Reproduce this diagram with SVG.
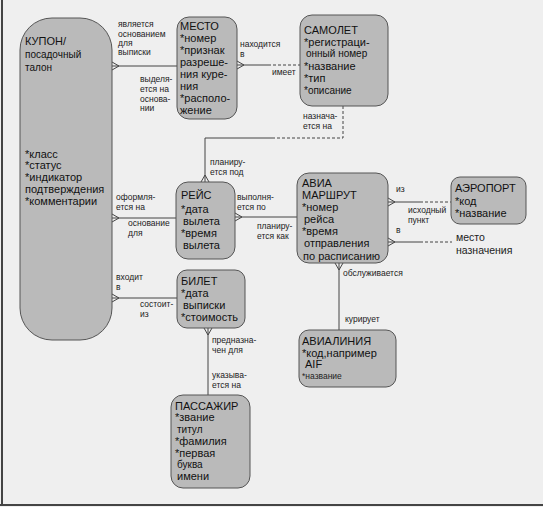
<svg xmlns="http://www.w3.org/2000/svg" width="543" height="507" viewBox="0 0 543 507">
<style>
.bg{fill:#efefef}
.node{fill:#bababa;stroke:#555;stroke-width:1}
.t{font-family:"Liberation Sans",Arial,sans-serif;font-size:11px;fill:#111}
.ts{font-family:"Liberation Sans",Arial,sans-serif;font-size:10px;fill:#111}
.l{font-family:"Liberation Sans",Arial,sans-serif;font-size:8.5px;fill:#222}
.lm{font-family:"Liberation Sans",Arial,sans-serif;font-size:10.5px;fill:#222}
.c{fill:none;stroke:#444;stroke-width:1}
.d{fill:none;stroke:#444;stroke-width:1;stroke-dasharray:3,2}
</style>
<rect class="bg" x="0" y="0" width="543" height="507"/>
<g id="frame" stroke="#444" stroke-width="2">
<line x1="2" y1="0" x2="2" y2="506"/>
<line x1="0" y1="505" x2="543" y2="505"/>
</g>
<g id="connectors">
<line class="c" x1="112" y1="66" x2="177" y2="66"/>
<path class="c" d="M112 62 L119 66 L112 70"/>
<line class="c" x1="237" y1="65" x2="268" y2="65"/>
<line class="d" x1="268" y1="65" x2="300" y2="65"/>
<path class="c" d="M237 61 L244 65 L237 69"/>
<polyline class="d" points="343,106 343,138 275,138"/>
<polyline class="c" points="275,138 205,138 205,182"/>
<path class="c" d="M201 182 L205 175 L209 182"/>
<line class="c" x1="112" y1="218" x2="176" y2="218"/>
<path class="c" d="M112 214 L119 218 L112 222"/>
<line class="c" x1="235" y1="217" x2="297" y2="217"/>
<path class="c" d="M235 213 L242 217 L235 221"/>
<line class="c" x1="388" y1="202" x2="420" y2="202"/>
<line class="d" x1="420" y1="202" x2="451" y2="202"/>
<path class="c" d="M388 198 L395 202 L388 206"/>
<line class="c" x1="388" y1="242" x2="420" y2="242"/>
<line class="d" x1="420" y1="242" x2="452" y2="242"/>
<path class="c" d="M388 238 L395 242 L388 246"/>
<line class="c" x1="339" y1="263" x2="339" y2="330"/>
<path class="c" d="M335 263 L339 270 L343 263"/>
<line class="c" x1="112" y1="298" x2="177" y2="298"/>
<path class="c" d="M112 294 L119 298 L112 302"/>
<line class="c" x1="208" y1="328" x2="208" y2="395"/>
<path class="c" d="M204 328 L208 335 L212 328"/>
</g>
<g id="labels">
<text class="l" x="118" y="27">является</text>
<text class="l" x="118" y="37">основанием</text>
<text class="l" x="118" y="46">для</text>
<text class="l" x="118" y="55">выписки</text>
<text class="l" x="140" y="82">выделя-</text>
<text class="l" x="140" y="92">ется на</text>
<text class="l" x="140" y="102">основа-</text>
<text class="l" x="140" y="111">нии</text>
<text class="l" x="240" y="47">находится</text>
<text class="l" x="240" y="57">в</text>
<text class="l" x="272" y="75">имеет</text>
<text class="l" x="303" y="119">назнача-</text>
<text class="l" x="303" y="129">ется на</text>
<text class="l" x="210" y="165">планиру-</text>
<text class="l" x="210" y="175">ется под</text>
<text class="l" x="116" y="200">оформля-</text>
<text class="l" x="116" y="210">ется на</text>
<text class="l" x="128" y="226">основание</text>
<text class="l" x="128" y="236">для</text>
<text class="l" x="237" y="200">выполня-</text>
<text class="l" x="237" y="210">ется по</text>
<text class="l" x="257" y="229">планиру-</text>
<text class="l" x="257" y="239">ется как</text>
<text class="l" x="396" y="192">из</text>
<text class="l" x="408" y="213">исходный</text>
<text class="l" x="408" y="223">пункт</text>
<text class="l" x="396" y="233">в</text>
<text class="lm" x="456" y="241">место</text>
<text class="lm" x="456" y="254">назначения</text>
<text class="l" x="343" y="276">обслуживается</text>
<text class="l" x="345" y="322">курирует</text>
<text class="l" x="116" y="280">входит</text>
<text class="l" x="116" y="290">в</text>
<text class="l" x="140" y="307">состоит-</text>
<text class="l" x="140" y="317">из</text>
<text class="l" x="212" y="343">предназна-</text>
<text class="l" x="212" y="353">чен для</text>
<text class="l" x="212" y="378">указыва-</text>
<text class="l" x="212" y="388">ется на</text>
</g>
<g id="kupon">
<rect class="node" x="20" y="18" width="92" height="322" rx="32" ry="32"/>
<text class="t" x="25" y="45" font-size="13">КУПОН/</text>
<text class="ts" x="25" y="58">посадочный</text>
<text class="ts" x="25" y="71">талон</text>
<text class="t" x="25" y="158">*класс</text>
<text class="t" x="25" y="169">*статус</text>
<text class="t" x="25" y="181">*индикатор</text>
<text class="t" x="25" y="193">подтверждения</text>
<text class="t" x="25" y="205">*комментарии</text>
</g>
<g id="mesto">
<rect class="node" x="177" y="17" width="60" height="102" rx="12" ry="12"/>
<text class="t" x="180" y="30">МЕСТО</text>
<text class="t" x="180" y="42">*номер</text>
<text class="t" x="180" y="54">*признак</text>
<text class="t" x="180" y="66">разреше-</text>
<text class="t" x="180" y="78">ния куре-</text>
<text class="t" x="180" y="90">ния</text>
<text class="t" x="180" y="102">*располо-</text>
<text class="t" x="180" y="114">жение</text>
</g>
<g id="samolet">
<rect class="node" x="300" y="15" width="88" height="91" rx="12" ry="12"/>
<text class="t" x="304" y="34">САМОЛЕТ</text>
<text class="t" x="304" y="46">*регистраци-</text>
<text class="ts" x="306" y="57">онный номер</text>
<text class="t" x="304" y="70">*название</text>
<text class="t" x="304" y="82">*тип</text>
<text class="ts" x="304" y="94">*описание</text>
</g>
<g id="reis">
<rect class="node" x="176" y="182" width="59" height="77" rx="12" ry="12"/>
<text class="t" x="181" y="199">РЕЙС</text>
<text class="t" x="181" y="213">*дата</text>
<text class="t" x="183" y="225">вылета</text>
<text class="t" x="181" y="237">*время</text>
<text class="t" x="183" y="249">вылета</text>
</g>
<g id="aviamarshrut">
<rect class="node" x="297" y="173" width="91" height="90" rx="12" ry="12"/>
<text class="t" x="302" y="187">АВИА</text>
<text class="t" x="302" y="199">МАРШРУТ</text>
<text class="t" x="302" y="211">*номер</text>
<text class="t" x="304" y="223">рейса</text>
<text class="t" x="302" y="235">*время</text>
<text class="t" x="304" y="247">отправления</text>
<text class="t" x="303" y="260">по расписанию</text>
</g>
<g id="aeroport">
<rect class="node" x="451" y="177" width="75" height="47" rx="9" ry="9"/>
<text class="t" x="455" y="192">АЭРОПОРТ</text>
<text class="t" x="455" y="205">*код</text>
<text class="t" x="455" y="217">*название</text>
</g>
<g id="avialiniya">
<rect class="node" x="299" y="330" width="97" height="57" rx="10" ry="10"/>
<text class="t" x="302" y="345">АВИАЛИНИЯ</text>
<text class="t" x="302" y="357">*код,например</text>
<text class="t" x="305" y="368">AIF</text>
<text class="l" x="302" y="379">*название</text>
</g>
<g id="bilet">
<rect class="node" x="177" y="270" width="68" height="58" rx="10" ry="10"/>
<text class="t" x="181" y="285" font-size="13">БИЛЕТ</text>
<text class="t" x="181" y="297">*дата</text>
<text class="t" x="183" y="309">выписки</text>
<text class="t" x="181" y="321">*стоимость</text>
</g>
<g id="passazhir">
<rect class="node" x="171" y="395" width="79" height="93" rx="12" ry="12"/>
<text class="t" x="175" y="410">ПАССАЖИР</text>
<text class="t" x="175" y="421">*звание</text>
<text class="ts" x="177" y="433">титул</text>
<text class="t" x="175" y="445">*фамилия</text>
<text class="t" x="175" y="457">*первая</text>
<text class="ts" x="177" y="468">буква</text>
<text class="t" x="177" y="480">имени</text>
</g>
</svg>
